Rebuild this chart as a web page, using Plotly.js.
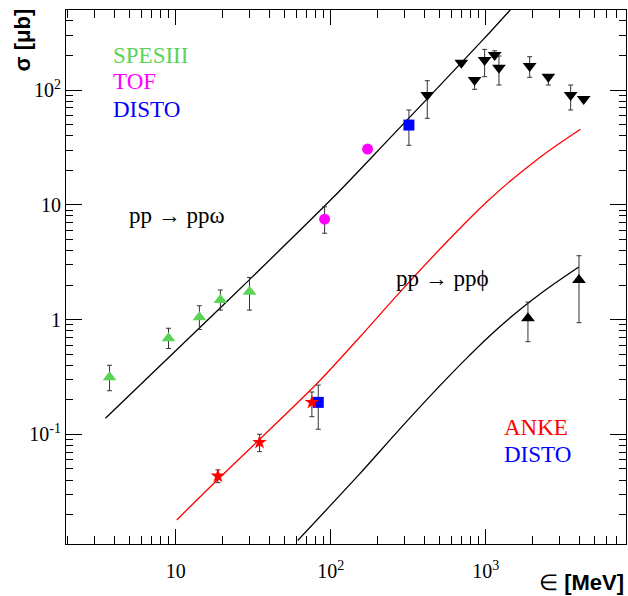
<!DOCTYPE html>
<html>
<head>
<meta charset="utf-8">
<script src="https://cdn.plot.ly/plotly-3.0.1.min.js"></script>
<style>html,body{margin:0;padding:0;background:#fff;}#plot{width:628px;height:596px;}</style>
</head>
<body>
<div id="plot"></div>
<script>
// ---- pp -> pp omega data ----
const spesX  = [3.74, 8.98, 14.2, 19.4, 29.9];
const spesY  = [0.314, 0.687, 1.05, 1.48, 1.75];
const spesHi = [0.40, 0.84, 1.32, 1.81, 2.33];
const spesLo = [0.24, 0.56, 0.82, 1.21, 1.21];

const tofX  = [91.2, 172.6];
const tofY  = [7.5, 30.6];
const tofHi = [9.6, 30.6];
const tofLo = [5.65, 30.6];

const distoOmX  = [319];
const distoOmY  = [49.5];
const distoOmHi = [67];
const distoOmLo = [33];

const otherOmX  = [419, 695, 846, 982, 1140, 1215, 1917, 2531, 3524, 4276];
const otherOmY  = [90.5, 172.9, 122, 182.5, 201.8, 156.4, 161.8, 130.6, 90.5, 83.5];
const otherOmHi = [120.5, 172.9, 122, 226, 219.8, 197.7, 195, 130.6, 110.5, 83.5];
const otherOmLo = [56.7, 172.9, 101.4, 130.6, 201.8, 110.5, 129, 110.5, 67, 83.5];

const omegaCurveX = [3.52, 14.2, 29.9, 103, 228, 957, 1445];
const omegaCurveY = [0.138, 0.846, 2.23, 11.5, 35.3, 273.5, 503];

// ---- pp -> pp phi data ----
const ankeX  = [18.7, 34.7, 75.5];
const ankeY  = [0.0434, 0.0853, 0.190];
const ankeHi = [0.049, 0.1002, 0.234];
const ankeLo = [0.038, 0.0707, 0.1426];

const distoPhiX  = [83];
const distoPhiY  = [0.190];
const distoPhiHi = [0.269];
const distoPhiLo = [0.1108];

const otherPhiX  = [1869, 3988];
const otherPhiY  = [1.026, 2.21];
const otherPhiHi = [1.42, 3.6];
const otherPhiLo = [0.642, 0.94];

const phiRedX = [10.15, 18.66, 34.67, 84.5, 153.0, 277.3, 502.2, 728.1, 1044.5, 1491.5, 2007.4, 2701.6, 4077];
const phiRedY = [0.01797, 0.04049, 0.0903, 0.2919, 0.6985, 1.716, 4.081, 6.845, 11.01, 16.81, 23.18, 31.19, 45.48];

const phiBlackX = [61.2, 153.0, 277.3, 502.2, 728.1, 1044.5, 1491.5, 2007.4, 2701.6, 3976];
const phiBlackY = [0.01191, 0.04500, 0.1106, 0.2630, 0.4413, 0.7098, 1.084, 1.494, 2.010, 2.873];

// tick labels
const xTickVals = [10, 100, 1000];
const xTickText = ['10', '10<sup>2</sup>', '10<sup>3</sup>'];
const yTickVals = [0.1, 1, 10, 100];
const yTickText = ['10<sup>-1</sup>', '1', '10', '10<sup>2</sup>'];

const GREEN = '#59D454', MAGENTA = '#FF00FF', BLUE = '#0000FF', RED = '#FF0000';
const ERRC = '#333333';

function minorVals(lo, hi) {
  const out = [];
  for (let e = -3; e <= 4; e++) {
    for (let d = 2; d <= 9; d++) {
      const v = d * Math.pow(10, e);
      if (v > lo && v < hi) out.push(v);
    }
  }
  return out;
}

function pts(x, y, hi, lo, symbol, color, size) {
  return {
    x: x, y: y, type: 'scatter', mode: 'markers',
    marker: {symbol: symbol, color: color, size: size, line: {width: 0}},
    error_y: {
      type: 'data', symmetric: false,
      array: y.map((v, i) => hi[i] - v),
      arrayminus: y.map((v, i) => v - lo[i]),
      color: ERRC, thickness: 1, width: 2.5
    },
    cliponaxis: true, hoverinfo: 'skip'
  };
}
function curve(x, y, color) {
  return {x: x, y: y, type: 'scatter', mode: 'lines',
    line: {color: color, width: 1.3, shape: 'spline', smoothing: 0.8}, hoverinfo: 'skip'};
}

const data = [
  curve(omegaCurveX, omegaCurveY, 'black'),
  curve(phiRedX, phiRedY, RED),
  curve(phiBlackX, phiBlackY, 'black'),
  pts(spesX, spesY, spesHi, spesLo, 'triangle-up', GREEN, 12),
  pts(tofX, tofY, tofHi, tofLo, 'circle', MAGENTA, 11),
  pts(distoOmX, distoOmY, distoOmHi, distoOmLo, 'square', BLUE, 11),
  pts(otherOmX, otherOmY, otherOmHi, otherOmLo, 'triangle-down', 'black', 12),
  pts(distoPhiX, distoPhiY, distoPhiHi, distoPhiLo, 'square', BLUE, 11),
  pts(ankeX, ankeY, ankeHi, ankeLo, 'star', RED, 11),
  pts(otherPhiX, otherPhiY, otherPhiHi, otherPhiLo, 'triangle-up', 'black', 12)
];

const serif = 'Liberation Serif, Times New Roman, serif';
const sans = 'Liberation Sans, Arial, sans-serif';

function ann(text, x, y, color, extra) {
  return Object.assign({text: text, xref: 'paper', yref: 'paper', x: x, y: y,
    xanchor: 'left', yanchor: 'middle', showarrow: false,
    font: {family: serif, size: 23, color: color}}, extra || {});
}

const layout = {
  width: 628, height: 596,
  margin: {l: 66, r: 2, t: 10, b: 52, pad: 0},
  paper_bgcolor: 'white', plot_bgcolor: 'white',
  showlegend: false,
  xaxis: {
    type: 'log', range: [0.292, 3.904],
    showline: true, linecolor: 'black', linewidth: 1, mirror: 'ticks',
    ticks: 'inside', ticklen: 15, tickwidth: 1, tickcolor: 'black',
    tickmode: 'array', tickvals: xTickVals, ticktext: xTickText,
    tickfont: {family: serif, size: 20, color: 'black'},
    ticklabelstandoff: 9,
    minor: {tickmode: 'array', tickvals: minorVals(1.9, 8100), ticks: 'inside', ticklen: 8, tickwidth: 1, tickcolor: 'black', showgrid: false},
    showgrid: false, zeroline: false
  },
  yaxis: {
    type: 'log', range: [-1.955, 2.697],
    showline: true, linecolor: 'black', linewidth: 1, mirror: 'ticks',
    ticks: 'inside', ticklen: 16, tickwidth: 1, tickcolor: 'black',
    tickmode: 'array', tickvals: yTickVals, ticktext: yTickText,
    tickfont: {family: serif, size: 20, color: 'black'},
    minor: {tickmode: 'array', tickvals: minorVals(0.011, 510), ticks: 'inside', ticklen: 7, tickwidth: 1, tickcolor: 'black', showgrid: false},
    showgrid: false, zeroline: false
  },
  annotations: [
    ann('SPESIII', 0.0804, 0.9157, GREEN),
    ann('TOF', 0.0804, 0.8652, MAGENTA),
    ann('DISTO', 0.0804, 0.8137, BLUE),
    ann('pp → ppω', 0.1085, 0.6161, 'black'),
    ann('pp → ppϕ', 0.5855, 0.4981, 'black'),
    ann('ANKE', 0.7784, 0.2191, RED),
    ann('DISTO', 0.7784, 0.1685, BLUE),
    {text: '<b>σ [μb]</b>', xref: 'paper', yref: 'paper', x: -0.0786, y: 0.9448,
      xanchor: 'center', yanchor: 'middle', textangle: -90, showarrow: false,
      font: {family: sans, size: 22, color: 'black'}},
    {text: '∈ <b>[MeV]</b>', xref: 'paper', yref: 'paper', x: 1.0, y: -0.073,
      xanchor: 'right', yanchor: 'middle', showarrow: false,
      font: {family: sans, size: 22, color: 'black'}}
  ]
};

Plotly.newPlot('plot', data, layout, {staticPlot: true, displayModeBar: false});
</script>
</body>
</html>
